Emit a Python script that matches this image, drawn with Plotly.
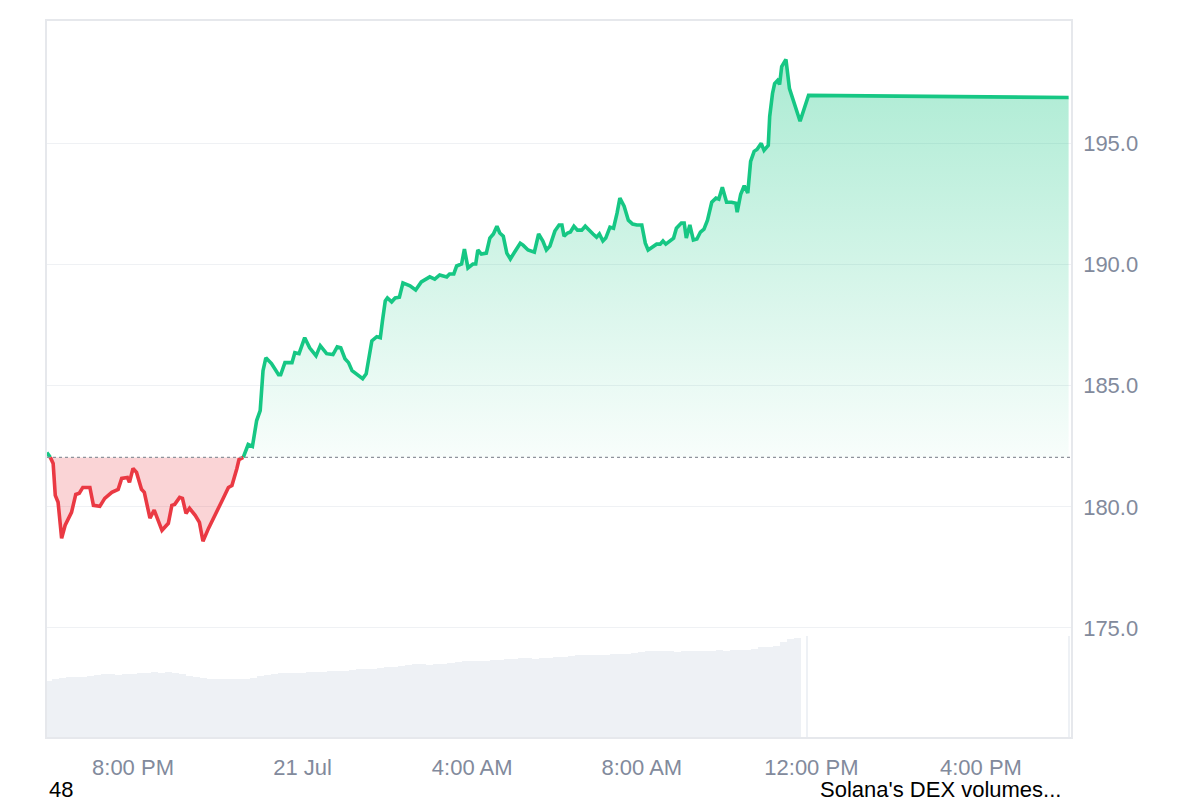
import numpy as np
import pandas as pd
import plotly.graph_objects as go

# ---------------- data ----------------
TIMES = [
    "2025-07-20 17:58", "2025-07-20 18:03", "2025-07-20 18:07", "2025-07-20 18:10", "2025-07-20 18:14",
    "2025-07-20 18:19", "2025-07-20 18:24", "2025-07-20 18:33", "2025-07-20 18:39", "2025-07-20 18:44",
    "2025-07-20 18:49", "2025-07-20 18:59", "2025-07-20 19:04", "2025-07-20 19:13", "2025-07-20 19:20",
    "2025-07-20 19:30", "2025-07-20 19:39", "2025-07-20 19:44", "2025-07-20 19:52", "2025-07-20 19:55",
    "2025-07-20 20:00", "2025-07-20 20:05", "2025-07-20 20:12", "2025-07-20 20:16", "2025-07-20 20:24",
    "2025-07-20 20:30", "2025-07-20 20:34", "2025-07-20 20:41", "2025-07-20 20:50", "2025-07-20 20:55",
    "2025-07-20 20:59", "2025-07-20 21:06", "2025-07-20 21:10", "2025-07-20 21:15", "2025-07-20 21:20",
    "2025-07-20 21:28", "2025-07-20 21:34", "2025-07-20 21:39", "2025-07-20 21:47", "2025-07-20 21:54",
    "2025-07-20 22:05", "2025-07-20 22:15", "2025-07-20 22:20", "2025-07-20 22:27", "2025-07-20 22:30",
    "2025-07-20 22:36", "2025-07-20 22:43", "2025-07-20 22:49", "2025-07-20 22:55", "2025-07-20 23:00",
    "2025-07-20 23:04", "2025-07-20 23:08", "2025-07-20 23:16", "2025-07-20 23:26", "2025-07-20 23:29",
    "2025-07-20 23:35", "2025-07-20 23:45", "2025-07-20 23:49", "2025-07-20 23:55",
    "2025-07-21 00:03", "2025-07-21 00:10", "2025-07-21 00:19", "2025-07-21 00:25", "2025-07-21 00:34",
    "2025-07-21 00:43", "2025-07-21 00:49", "2025-07-21 00:54", "2025-07-21 01:00", "2025-07-21 01:05",
    "2025-07-21 01:10", "2025-07-21 01:17", "2025-07-21 01:25", "2025-07-21 01:30", "2025-07-21 01:33",
    "2025-07-21 01:38", "2025-07-21 01:45", "2025-07-21 01:50", "2025-07-21 01:53", "2025-07-21 01:57",
    "2025-07-21 02:00", "2025-07-21 02:06", "2025-07-21 02:11", "2025-07-21 02:17", "2025-07-21 02:22",
    "2025-07-21 02:32", "2025-07-21 02:40", "2025-07-21 02:48", "2025-07-21 03:00", "2025-07-21 03:07",
    "2025-07-21 03:14", "2025-07-21 03:24", "2025-07-21 03:28", "2025-07-21 03:34", "2025-07-21 03:38",
    "2025-07-21 03:45", "2025-07-21 03:49", "2025-07-21 03:54", "2025-07-21 04:01", "2025-07-21 04:05",
    "2025-07-21 04:08", "2025-07-21 04:13", "2025-07-21 04:20", "2025-07-21 04:25", "2025-07-21 04:30",
    "2025-07-21 04:35", "2025-07-21 04:39", "2025-07-21 04:44", "2025-07-21 04:49", "2025-07-21 04:54",
    "2025-07-21 05:01", "2025-07-21 05:08", "2025-07-21 05:12", "2025-07-21 05:19", "2025-07-21 05:28",
    "2025-07-21 05:34", "2025-07-21 05:40", "2025-07-21 05:45", "2025-07-21 05:50", "2025-07-21 05:57",
    "2025-07-21 06:03", "2025-07-21 06:07", "2025-07-21 06:10", "2025-07-21 06:15", "2025-07-21 06:19",
    "2025-07-21 06:24", "2025-07-21 06:29", "2025-07-21 06:35", "2025-07-21 06:40", "2025-07-21 06:46",
    "2025-07-21 06:51", "2025-07-21 06:56", "2025-07-21 07:00", "2025-07-21 07:05", "2025-07-21 07:09",
    "2025-07-21 07:15", "2025-07-21 07:20", "2025-07-21 07:25", "2025-07-21 07:29", "2025-07-21 07:35",
    "2025-07-21 07:41", "2025-07-21 07:47", "2025-07-21 07:53", "2025-07-21 08:00", "2025-07-21 08:05",
    "2025-07-21 08:09", "2025-07-21 08:16", "2025-07-21 08:21", "2025-07-21 08:26", "2025-07-21 08:30",
    "2025-07-21 08:34", "2025-07-21 08:39", "2025-07-21 08:45", "2025-07-21 08:49", "2025-07-21 08:56",
    "2025-07-21 09:00", "2025-07-21 09:03", "2025-07-21 09:08", "2025-07-21 09:13", "2025-07-21 09:18",
    "2025-07-21 09:23", "2025-07-21 09:28", "2025-07-21 09:33", "2025-07-21 09:39", "2025-07-21 09:45",
    "2025-07-21 09:49", "2025-07-21 09:54", "2025-07-21 10:00", "2025-07-21 10:07", "2025-07-21 10:13",
    "2025-07-21 10:15", "2025-07-21 10:20", "2025-07-21 10:25", "2025-07-21 10:30", "2025-07-21 10:34",
    "2025-07-21 10:39", "2025-07-21 10:43", "2025-07-21 10:49", "2025-07-21 10:53", "2025-07-21 10:59",
    "2025-07-21 11:01", "2025-07-21 11:05", "2025-07-21 11:08", "2025-07-21 11:12", "2025-07-21 11:15",
    "2025-07-21 11:18", "2025-07-21 11:21", "2025-07-21 11:24", "2025-07-21 11:29", "2025-07-21 11:34",
    "2025-07-21 11:44", "2025-07-21 11:56", "2025-07-21 18:04",
]
PRICES = [
    182.24, 182.04, 181.79, 180.47, 180.19, 178.70, 179.24, 179.77, 180.51, 180.56,
    180.80, 180.80, 180.06, 180.02, 180.35, 180.60, 180.72, 181.17, 181.21, 181.01,
    181.58, 181.42, 180.72, 180.60, 179.53, 179.86, 179.53, 179.03, 179.32, 180.06,
    180.10, 180.39, 180.35, 179.73, 179.94, 179.65, 179.36, 178.58, 179.12, 179.57,
    180.19, 180.80, 180.88, 181.58, 181.95, 182.04, 182.57, 182.49, 183.56, 183.97,
    185.62, 186.15, 185.91, 185.45, 185.45, 185.95, 185.95, 186.36, 186.32,
    186.98, 186.56, 186.23, 186.65, 186.32, 186.28, 186.60, 186.56, 186.11, 185.95,
    185.62, 185.45, 185.29, 185.49, 186.03, 186.85, 187.02, 186.98, 187.67, 188.50,
    188.62, 188.46, 188.62, 188.65, 189.24, 189.12, 188.95, 189.28, 189.49, 189.40,
    189.57, 189.49, 189.61, 189.61, 189.94, 190.02, 190.64, 189.86, 190.02, 190.02,
    190.60, 190.43, 190.47, 191.09, 191.26, 191.58, 191.30, 191.17, 190.47, 190.23,
    190.56, 190.88, 190.80, 190.60, 190.51, 191.26, 190.97, 190.60, 190.76, 191.38,
    191.63, 191.63, 191.17, 191.30, 191.34, 191.58, 191.42, 191.42, 191.58, 191.38,
    191.26, 191.13, 191.26, 190.97, 191.09, 191.54, 191.50, 192.12, 192.74, 192.41,
    191.83, 191.67, 191.63, 191.63, 190.88, 190.60, 190.72, 190.84, 190.84, 190.97,
    190.84, 190.97, 191.09, 191.50, 191.71, 191.71, 191.09, 191.63, 191.01, 191.05,
    191.34, 191.46, 191.83, 192.57, 192.74, 192.70, 193.19, 192.57, 192.57, 192.53,
    192.16, 192.90, 193.25, 192.95, 194.26, 194.67, 194.75, 195.00, 194.71, 194.92,
    196.11, 197.06, 197.47, 197.59, 197.43, 198.17, 198.33, 198.46, 197.26, 196.81,
    195.91, 196.98, 196.89,
]
BASELINE = 182.04  # reference (open) price, dotted line

# volume bars (billions USD), 10-minute bars starting 2025-07-20 18:00
VOLUME_START = "2025-07-20 18:00"
VOLUME = [
    5.6, 5.8, 5.9, 6.0, 6.0, 6.0, 6.1, 6.2, 6.3, 6.3,
    6.2, 6.3, 6.3, 6.4, 6.4, 6.5, 6.4, 6.5, 6.4, 6.3,
    6.1, 6.0, 5.9, 5.8, 5.8, 5.8, 5.8, 5.8, 5.8, 5.9,
    6.1, 6.2, 6.3, 6.4, 6.4, 6.4, 6.4, 6.5, 6.5, 6.5,
    6.6, 6.6, 6.6, 6.7, 6.8, 6.8, 6.8, 6.9, 7.0, 7.0,
    7.1, 7.2, 7.3, 7.3, 7.2, 7.3, 7.3, 7.4, 7.5, 7.6,
    7.6, 7.6, 7.6, 7.7, 7.7, 7.8, 7.8, 7.9, 7.9, 7.8,
    7.9, 7.9, 8.0, 8.0, 8.1, 8.2, 8.2, 8.2, 8.2, 8.2,
    8.3, 8.3, 8.3, 8.4, 8.5, 8.6, 8.6, 8.6, 8.6, 8.5,
    8.6, 8.6, 8.6, 8.6, 8.6, 8.7, 8.6, 8.7, 8.7, 8.7,
    8.8, 9.0, 9.0, 9.1, 9.5, 9.8, 9.9,
]
EXTRA_VOL_TIMES = ["2025-07-21 11:54", "2025-07-21 18:04"]
EXTRA_VOL = [10.1, 10.1]

X_TICKS = ["2025-07-20 20:00", "2025-07-21 00:00", "2025-07-21 04:00",
           "2025-07-21 08:00", "2025-07-21 12:00", "2025-07-21 16:00"]
X_TICK_LABELS = ["8:00 PM", "21 Jul", "4:00 AM", "8:00 AM", "12:00 PM", "4:00 PM"]
Y_TICKS = [175, 180, 185, 190, 195]
X_RANGE = ["2025-07-20 17:58:18", "2025-07-21 18:07:24"]
Y_RANGE = [170.5, 200.05]
VOL_RANGE = [0, 71.8]

FOOT_LEFT = "48"
FOOT_RIGHT = "Solana's DEX volumes..."

# ---------------- styling ----------------
GREEN = "#16c784"
RED = "#ea3943"
FONT = "Liberation Sans, Arial, sans-serif"
TICK_COLOR = "#828a9c"
FS = 22

# ---------------- build split series ----------------
t = pd.to_datetime(pd.Series(TIMES))
p = np.array(PRICES, dtype=float)
xs, ys = [t.iloc[0]], [p[0]]
for i in range(1, len(p)):
    a, b = p[i - 1] - BASELINE, p[i] - BASELINE
    if a * b < 0:
        f = a / (a - b)
        xs.append(t.iloc[i - 1] + (t.iloc[i] - t.iloc[i - 1]) * f)
        ys.append(BASELINE)
    xs.append(t.iloc[i])
    ys.append(p[i])
ys = np.array(ys)
green_line = np.where(ys >= BASELINE, ys, np.nan)
red_line = np.where(ys <= BASELINE, ys, np.nan)
green_fill = np.maximum(ys, BASELINE)
red_fill = np.minimum(ys, BASELINE)
base_arr = np.full(len(ys), BASELINE)

vol_t = list(pd.date_range(VOLUME_START, periods=len(VOLUME), freq="10min")) + list(pd.to_datetime(EXTRA_VOL_TIMES))
vol_v = VOLUME + EXTRA_VOL
vol_w = [10 * 60 * 1000] * len(VOLUME) + [3 * 60 * 1000] * len(EXTRA_VOL)

fig = go.Figure()
fig.add_trace(go.Bar(x=vol_t, y=vol_v, width=vol_w, yaxis="y2",
                     marker=dict(color="#eef1f5", line=dict(width=0)), hoverinfo="skip"))
# green fill
fig.add_trace(go.Scatter(x=xs, y=base_arr, mode="lines", line=dict(width=0), hoverinfo="skip"))
fig.add_trace(go.Scatter(x=xs, y=green_fill, mode="lines", line=dict(width=0), fill="tonexty",
                         fillgradient=dict(type="vertical",
                                           colorscale=[[0, "rgba(22,199,132,0.03)"],
                                                       [1, "rgba(22,199,132,0.36)"]]),
                         hoverinfo="skip"))
# red fill
fig.add_trace(go.Scatter(x=xs, y=base_arr, mode="lines", line=dict(width=0), hoverinfo="skip"))
fig.add_trace(go.Scatter(x=xs, y=red_fill, mode="lines", line=dict(width=0), fill="tonexty",
                         fillcolor="rgba(234,57,67,0.22)", hoverinfo="skip"))
# lines
fig.add_trace(go.Scatter(x=xs, y=green_line, mode="lines", line=dict(color=GREEN, width=3.6),
                         connectgaps=False))
fig.add_trace(go.Scatter(x=xs, y=red_line, mode="lines", line=dict(color=RED, width=3.6),
                         connectgaps=False))

fig.add_shape(type="line", xref="paper", yref="y", x0=0, x1=1, y0=BASELINE, y1=BASELINE,
              line=dict(color="#8f939c", width=1.3, dash="dot"), layer="above")

# the page body has an 8px default margin, so the figure is 1192x792 placed at (8, 8)
fig.update_layout(
    width=1192, height=792,
    margin=dict(l=39, r=129, t=11, b=63),
    paper_bgcolor="white", plot_bgcolor="white",
    showlegend=False,
    font=dict(family=FONT, size=FS, color=TICK_COLOR),
    xaxis=dict(type="date", range=[pd.Timestamp(X_RANGE[0]), pd.Timestamp(X_RANGE[1])],
               tickvals=pd.to_datetime(X_TICKS), ticktext=X_TICK_LABELS,
               showgrid=False, zeroline=False, showline=True, mirror=True,
               linecolor="#e6e8ec", linewidth=1.5, ticks="", ticklabelstandoff=10,
               tickfont=dict(size=FS, color=TICK_COLOR)),
    yaxis=dict(range=Y_RANGE, side="right", tickvals=Y_TICKS, tickformat=".1f",
               showgrid=True, gridcolor="#eff1f4", gridwidth=1.2, zeroline=False,
               showline=True, mirror=True, linecolor="#e6e8ec", linewidth=1.5,
               ticks="", ticklabelstandoff=6, tickfont=dict(size=FS, color=TICK_COLOR)),
    yaxis2=dict(range=VOL_RANGE, overlaying="y", side="left", visible=False, showgrid=False),
    bargap=0,
)

fig.add_annotation(xref="paper", yref="paper", x=0.0, y=-0.0735, xanchor="left", yanchor="middle",
                   text=FOOT_LEFT, showarrow=False, font=dict(family=FONT, size=FS, color="#000000"))
fig.add_annotation(xref="paper", yref="paper", x=0.992, y=-0.0735, xanchor="right", yanchor="middle",
                   text=FOOT_RIGHT, showarrow=False, font=dict(family=FONT, size=FS, color="#000000"))

fig.write_html("out.html")
